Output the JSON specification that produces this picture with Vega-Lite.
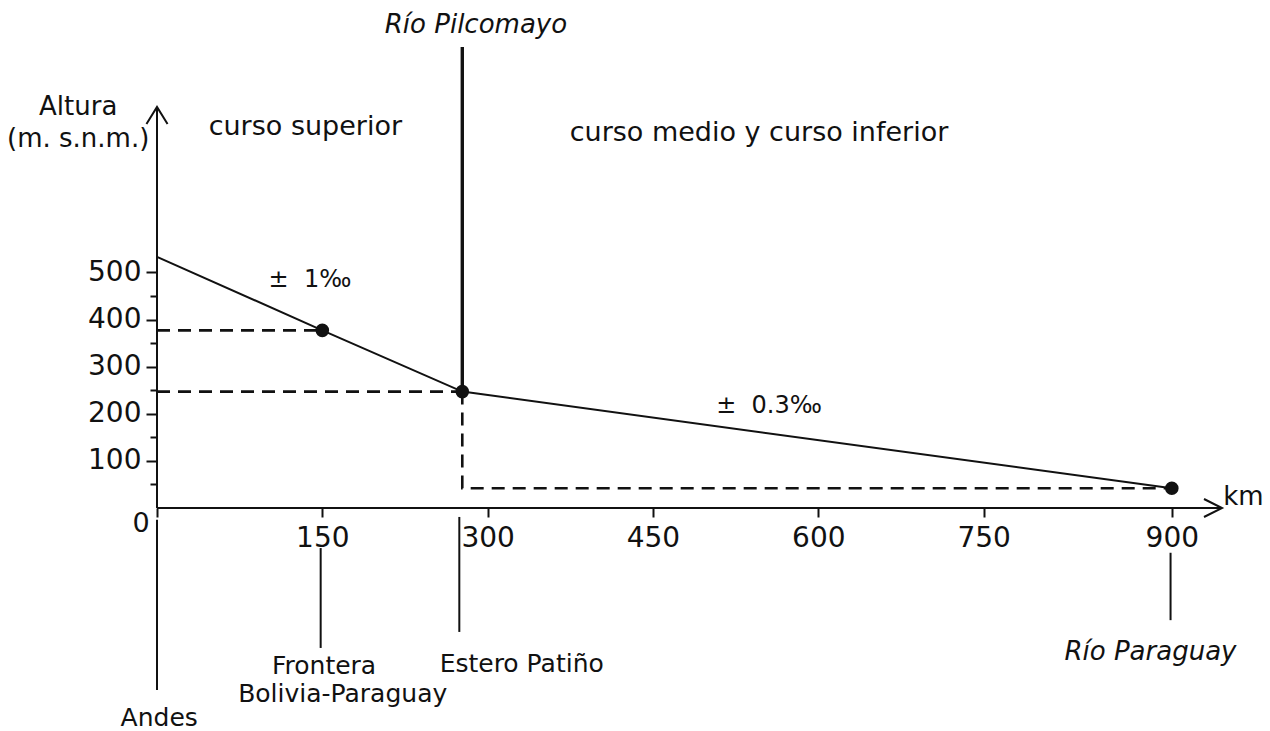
{
  "$schema": "https://vega.github.io/schema/vega-lite/v6.json",
  "width": 1065,
  "height": 508,
  "autosize": {"type": "none"},
  "padding": {"left": 157, "top": 0, "right": 48, "bottom": 223},
  "background": "white",
  "config": {
    "font": "DejaVu Sans",
    "view": {"stroke": null},
    "axis": {"grid": false, "domain": false, "title": null, "tickColor": "#111", "labelColor": "#111", "tickWidth": 2, "labelFont": "DejaVu Sans", "labelFontSize": 28, "labelFlush": false, "labelOverlap": false}
  },
  "datasets": {
    "profile": [
      {"km": 0, "alt": 533},
      {"km": 150, "alt": 377},
      {"km": 277, "alt": 247},
      {"km": 900, "alt": 42}
    ],
    "dots": [
      {"km": 150, "alt": 377},
      {"km": 277, "alt": 247},
      {"km": 900, "alt": 42}
    ],
    "dashes": [
      {"seg": "a", "ord": 1, "km": 0, "alt": 377},
      {"seg": "a", "ord": 2, "km": 150, "alt": 377},
      {"seg": "b", "ord": 1, "km": 0, "alt": 247},
      {"seg": "b", "ord": 2, "km": 277, "alt": 247},
      {"seg": "c", "ord": 1, "km": 277, "alt": 247},
      {"seg": "c", "ord": 2, "km": 277, "alt": 42},
      {"seg": "c", "ord": 3, "km": 900, "alt": 42}
    ],
    "yaxis": [{"km": 0, "alt": 0, "alt2": 851}],
    "xaxis": [{"km": 0, "km2": 940, "alt": 0}],
    "pilcomayo": [{"km": 277, "alt": 247, "alt2": 978}],
    "leaders": [
      {"name": "Andes", "km": 0, "alt": -25, "alt2": -386},
      {"name": "Frontera", "km": 148.5, "alt": -85, "alt2": -297},
      {"name": "Estero", "km": 274.3, "alt": -19, "alt2": -263},
      {"name": "Paraguay", "km": 899, "alt": -95, "alt2": -238}
    ],
    "arrowUp": [{"km": 0, "alt": 851}],
    "arrowRight": [{"km": 940, "alt": 0}],
    "titles": [
      {"label": "Altura", "km": -71.5, "alt": 834},
      {"label": "(m. s.n.m.)", "km": -71.5, "alt": 766}
    ],
    "sections": [
      {"label": "curso superior", "km": 134.6, "alt": 791.5},
      {"label": "curso medio y curso inferior", "km": 546.2, "alt": 779},
      {"label": "0", "km": -14.5, "alt": -51}
    ],
    "kmlabel": [{"label": "km", "km": 941, "alt": 6.4}],
    "rivers": [
      {"label": "Río Pilcomayo", "km": 289.4, "alt": 1008},
      {"label": "Río Paraguay", "km": 883, "alt": -322.5}
    ],
    "slopes": [
      {"label": "±\u00a0 1‰", "km": 138.8, "alt": 469},
      {"label": "±\u00a0 0.3‰", "km": 555.3, "alt": 201.6}
    ],
    "places": [
      {"label": "Andes", "km": 2, "alt": -462},
      {"label": "Frontera", "km": 151.6, "alt": -352.3},
      {"label": "Bolivia-Paraguay", "km": 168.5, "alt": -411.7},
      {"label": "Estero Patiño", "km": 330.9, "alt": -348}
    ]
  },
  "resolve": {"axis": {"x": "independent", "y": "independent"}},
  "layer": [
    {
      "data": {"name": "profile"},
      "mark": {"type": "line", "color": "#111", "strokeWidth": 2},
      "encoding": {
        "x": {"field": "km", "type": "quantitative",
          "scale": {"domain": [0, 750, 940], "range": [0, 826.6, 1065], "nice": false, "zero": false},
          "axis": {"orient": "bottom", "values": [0, 150, 300, 450, 600, 750, 900], "tickSize": 9, "labelPadding": 7, "labelExpr": "datum.value === 0 ? '' : datum.label"}},
        "y": {"field": "alt", "type": "quantitative",
          "scale": {"domain": [0, 1078], "nice": false, "zero": false},
          "axis": {"orient": "left", "values": [100, 200, 300, 400, 500], "tickSize": 11, "labelPadding": 5}}
      }
    },
    {
      "data": {"name": "yaxis"},
      "mark": {"type": "rule", "color": "#111", "strokeWidth": 2},
      "encoding": {
        "x": {"field": "km", "type": "quantitative", "axis": null},
        "y": {"field": "alt", "type": "quantitative",
          "axis": {"orient": "left", "values": [50, 150, 250, 350, 450], "tickSize": 7, "labels": false}},
        "y2": {"field": "alt2"}
      }
    },
    {
      "data": {"name": "xaxis"},
      "mark": {"type": "rule", "color": "#111", "strokeWidth": 2},
      "encoding": {
        "x": {"field": "km", "type": "quantitative", "axis": null},
        "x2": {"field": "km2"},
        "y": {"field": "alt", "type": "quantitative", "axis": null}
      }
    },
    {
      "data": {"name": "dashes"},
      "mark": {"type": "line", "color": "#111", "strokeWidth": 2.6, "strokeDash": [13, 8]},
      "encoding": {
        "x": {"field": "km", "type": "quantitative", "axis": null},
        "y": {"field": "alt", "type": "quantitative", "axis": null},
        "detail": {"field": "seg", "type": "nominal"},
        "order": {"field": "ord", "type": "quantitative"}
      }
    },
    {
      "data": {"name": "pilcomayo"},
      "mark": {"type": "rule", "color": "#111", "strokeWidth": 3.4},
      "encoding": {
        "x": {"field": "km", "type": "quantitative", "axis": null},
        "y": {"field": "alt", "type": "quantitative", "axis": null},
        "y2": {"field": "alt2"}
      }
    },
    {
      "data": {"name": "leaders"},
      "mark": {"type": "rule", "color": "#111", "strokeWidth": 2},
      "encoding": {
        "x": {"field": "km", "type": "quantitative", "axis": null},
        "y": {"field": "alt", "type": "quantitative", "axis": null},
        "y2": {"field": "alt2"}
      }
    },
    {
      "data": {"name": "dots"},
      "mark": {"type": "circle", "color": "#111", "size": 185, "opacity": 1},
      "encoding": {
        "x": {"field": "km", "type": "quantitative", "axis": null},
        "y": {"field": "alt", "type": "quantitative", "axis": null}
      }
    },
    {
      "data": {"name": "arrowUp"},
      "mark": {"type": "point", "shape": "M-0.62,1L0,0L0.62,1", "size": 1156, "filled": false, "color": "#111", "strokeWidth": 2, "opacity": 1},
      "encoding": {
        "x": {"field": "km", "type": "quantitative", "axis": null},
        "y": {"field": "alt", "type": "quantitative", "axis": null}
      }
    },
    {
      "data": {"name": "arrowRight"},
      "mark": {"type": "point", "shape": "M-1,-0.5L0,0L-1,0.5", "size": 1296, "filled": false, "color": "#111", "strokeWidth": 2, "opacity": 1},
      "encoding": {
        "x": {"field": "km", "type": "quantitative", "axis": null},
        "y": {"field": "alt", "type": "quantitative", "axis": null}
      }
    },
    {
      "data": {"name": "titles"},
      "mark": {"type": "text", "color": "#111", "fontSize": 26, "align": "center", "baseline": "alphabetic"},
      "encoding": {
        "x": {"field": "km", "type": "quantitative", "axis": null},
        "y": {"field": "alt", "type": "quantitative", "axis": null},
        "text": {"field": "label", "type": "nominal"}
      }
    },
    {
      "data": {"name": "sections"},
      "mark": {"type": "text", "color": "#111", "fontSize": 27, "align": "center", "baseline": "alphabetic"},
      "encoding": {
        "x": {"field": "km", "type": "quantitative", "axis": null},
        "y": {"field": "alt", "type": "quantitative", "axis": null},
        "text": {"field": "label", "type": "nominal"}
      }
    },
    {
      "data": {"name": "kmlabel"},
      "mark": {"type": "text", "color": "#111", "fontSize": 26, "align": "left", "baseline": "alphabetic"},
      "encoding": {
        "x": {"field": "km", "type": "quantitative", "axis": null},
        "y": {"field": "alt", "type": "quantitative", "axis": null},
        "text": {"field": "label", "type": "nominal"}
      }
    },
    {
      "data": {"name": "rivers"},
      "mark": {"type": "text", "color": "#111", "fontSize": 26, "fontStyle": "italic", "align": "center", "baseline": "alphabetic"},
      "encoding": {
        "x": {"field": "km", "type": "quantitative", "axis": null},
        "y": {"field": "alt", "type": "quantitative", "axis": null},
        "text": {"field": "label", "type": "nominal"}
      }
    },
    {
      "data": {"name": "slopes"},
      "mark": {"type": "text", "color": "#111", "fontSize": 24, "align": "center", "baseline": "alphabetic"},
      "encoding": {
        "x": {"field": "km", "type": "quantitative", "axis": null},
        "y": {"field": "alt", "type": "quantitative", "axis": null},
        "text": {"field": "label", "type": "nominal"}
      }
    },
    {
      "data": {"name": "places"},
      "mark": {"type": "text", "color": "#111", "fontSize": 25, "align": "center", "baseline": "alphabetic"},
      "encoding": {
        "x": {"field": "km", "type": "quantitative", "axis": null},
        "y": {"field": "alt", "type": "quantitative", "axis": null},
        "text": {"field": "label", "type": "nominal"}
      }
    }
  ]
}
